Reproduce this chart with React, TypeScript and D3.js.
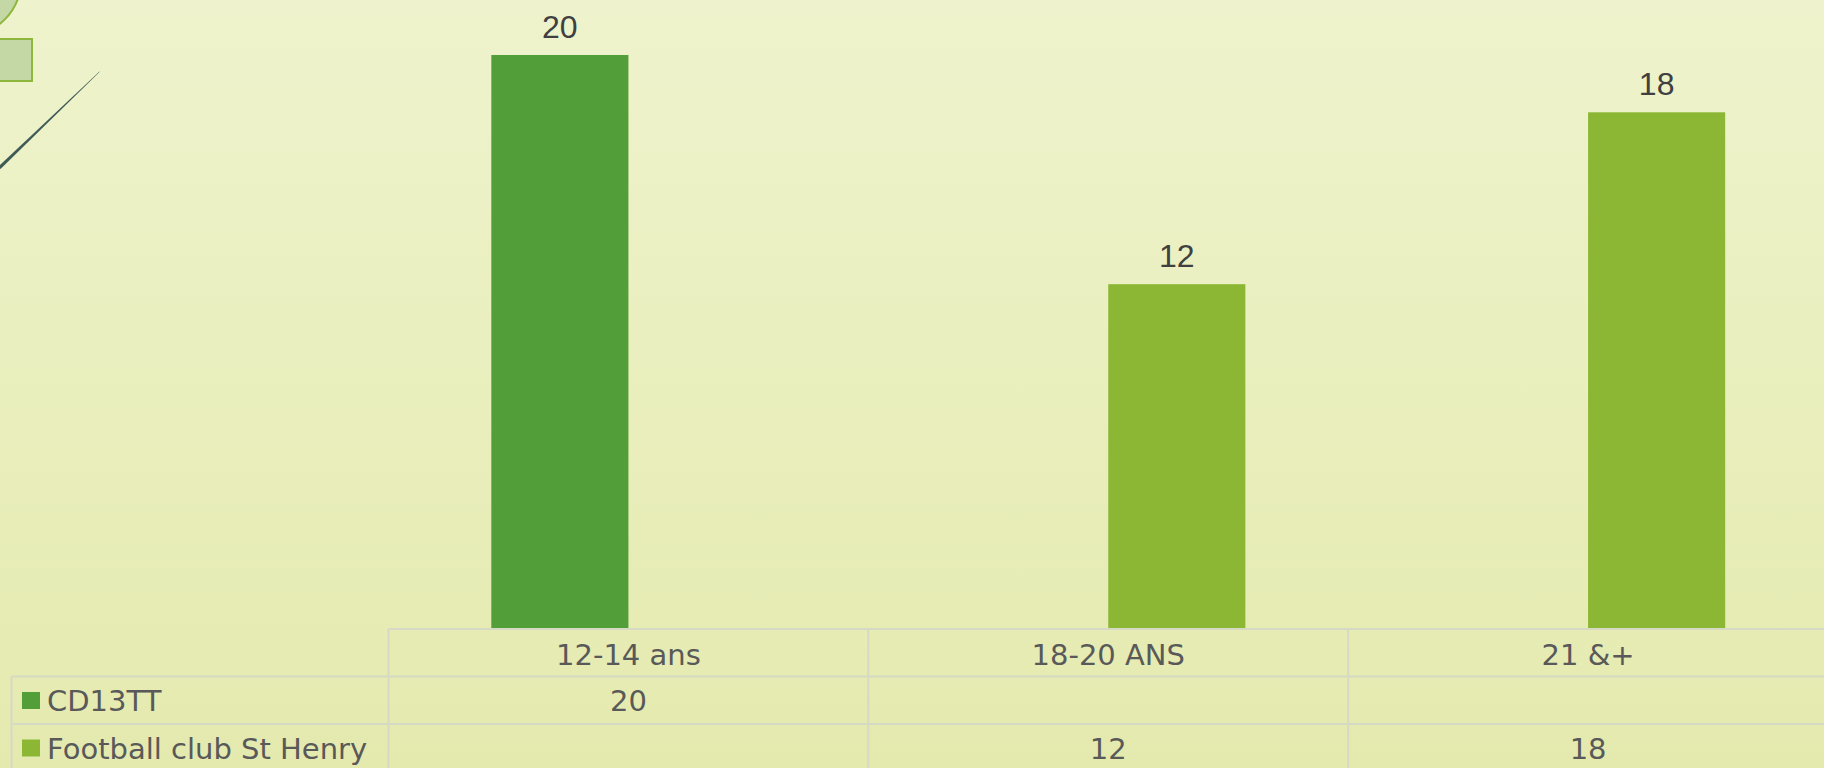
import React from "react";
import * as d3 from "d3";

const width = 1824;
const height = 768;

// chart data
const categories = ["12-14 ans", "18-20 ANS", "21 &+"];
const seriesNames = ["CD13TT", "Football club St Henry"];
const cd13tt = [20, null, null];
const footballClub = [null, 12, 18];
const seriesColors = ["#529E38", "#8BB734"];

const series = [cd13tt, footballClub];

// layout
const tableLeft = 11.5;
const colLeft = 388.5;
const colRight = 1828;
const plotTop = 55;
const plotBottom = 628;
const rowTops = [629, 676.5, 724];
const rowH = 47.5;

const tableFont = "'DejaVu Sans', sans-serif";
const labelFont = "'Liberation Sans', Arial, sans-serif";
const gridColor = "#D6D9C4";

const App = () => {
  React.useEffect(() => {
    document.body.style.margin = "0";
    document.body.style.overflow = "hidden";
  }, []);

  const xScale = d3
    .scaleBand()
    .domain(categories)
    .range([colLeft, colRight])
    .paddingInner(0)
    .paddingOuter(0);

  // excel style: gap width 150%, no overlap
  const barW = xScale.bandwidth() / (series.length + 1.5);

  const xSeries = d3
    .scaleBand()
    .domain(seriesNames)
    .range([0, barW * series.length]);

  const yScale = d3.scaleLinear().domain([0, 20]).range([plotBottom, plotTop]);

  const bars = [];
  series.forEach((vals, si) => {
    vals.forEach((v, ci) => {
      if (v == null) return;
      const groupX =
        xScale(categories[ci]) + (xScale.bandwidth() - barW * series.length) / 2;
      bars.push({
        key: si + "-" + ci,
        x: groupX + xSeries(seriesNames[si]),
        y: yScale(v),
        h: yScale(0) - yScale(v),
        fill: seriesColors[si],
        value: v
      });
    });
  });

  const colEdges = [colLeft, ...categories.map((c) => xScale(c) + xScale.bandwidth())];

  return (
    <svg
      width={width}
      height={height}
      style={{ position: "absolute", left: 0, top: 0, display: "block" }}
    >
      <defs>
        <linearGradient id="bg" x1="0" y1="0" x2="0" y2="1">
          <stop offset="0%" stopColor="#EFF3CD" />
          <stop offset="100%" stopColor="#E4EAAE" />
        </linearGradient>
      </defs>
      <rect x={0} y={0} width={width} height={height} fill="url(#bg)" />

      {/* decoration top-left */}
      <circle cx={-35} cy={-20} r={56} fill="#C4D8A6" stroke="#8DB63C" strokeWidth={2} />
      <rect x={-10} y={39} width={42} height={42} fill="#C4D8A6" stroke="#8DB63C" strokeWidth={2} />
      <path d="M0,165 L100,71 L99,72.5 L1,168.5 L0,169 Z" fill="#3F5B57" />

      {/* bars */}
      {bars.map((d) => (
        <g key={d.key}>
          <rect x={d.x} y={d.y} width={barW} height={d.h} fill={d.fill} />
          <text
            x={d.x + barW / 2}
            y={d.y - 17}
            textAnchor="middle"
            fontFamily={labelFont}
            fontSize={32}
            fill="#404040"
          >
            {d.value}
          </text>
        </g>
      ))}

      {/* data table */}
      <g stroke={gridColor} strokeWidth={2} fill="none">
        <line x1={colLeft} x2={width} y1={rowTops[0]} y2={rowTops[0]} />
        <line x1={tableLeft} x2={width} y1={rowTops[1]} y2={rowTops[1]} />
        <line x1={tableLeft} x2={width} y1={rowTops[2]} y2={rowTops[2]} />
        <line x1={tableLeft} x2={tableLeft} y1={rowTops[1]} y2={height} />
        {colEdges.map((x, i) => (
          <line
            key={i}
            x1={x}
            x2={x}
            y1={rowTops[0]}
            y2={height}
          />
        ))}
      </g>

      <g fontFamily={tableFont} fontSize={29} fill="#595959">
        {categories.map((c) => (
          <text
            key={c}
            x={xScale(c) + xScale.bandwidth() / 2}
            y={rowTops[0] + 36}
            textAnchor="middle"
          >
            {c}
          </text>
        ))}
        {seriesNames.map((name, si) => (
          <g key={name}>
            <rect
              x={22}
              y={rowTops[si + 1] + 15.5}
              width={18}
              height={17}
              fill={seriesColors[si]}
            />
            <text x={47} y={rowTops[si + 1] + 34.5}>
              {name}
            </text>
            {series[si].map((v, ci) =>
              v == null ? null : (
                <text
                  key={ci}
                  x={xScale(categories[ci]) + xScale.bandwidth() / 2}
                  y={rowTops[si + 1] + 34.5}
                  textAnchor="middle"
                >
                  {v}
                </text>
              )
            )}
          </g>
        ))}
      </g>
    </svg>
  );
};

export default App;
